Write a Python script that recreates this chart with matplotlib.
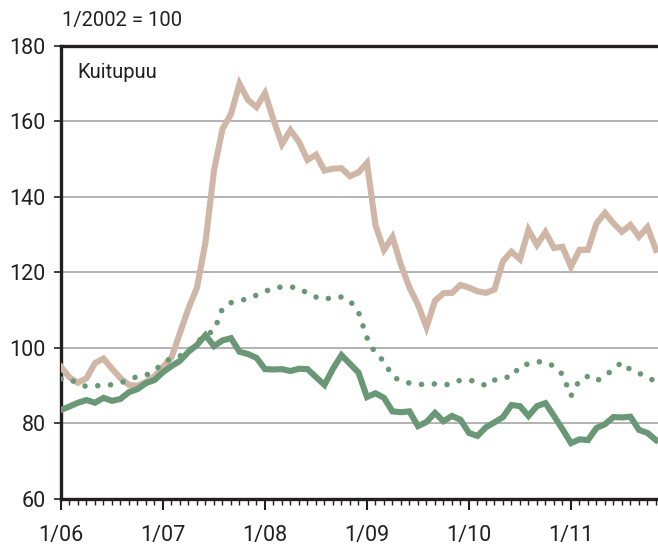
import matplotlib

matplotlib.use("Agg")
import matplotlib.pyplot as plt
import numpy as np
from matplotlib.ticker import MultipleLocator

# monthly index values, 1/2006 .. 11/2011 (1/2002 = 100)
tan_series = [
    95.0, 92.2, 90.8, 92.0, 96.0, 97.2, 94.5, 92.0, 90.2, 90.0, 91.0, 92.5,
    95.0, 97.5, 104.0, 110.5, 116.0, 128.0, 147.0, 158.0, 162.0, 170.0, 165.7, 163.8,
    167.5, 160.4, 154.0, 157.7, 154.6, 149.8, 151.2, 147.0, 147.5, 147.6, 145.5, 146.5,
    149.0, 132.5, 126.0, 129.4, 122.0, 116.0, 111.5, 105.5, 112.5, 114.5, 114.6, 116.7,
    116.0, 115.0, 114.6, 115.5, 123.0, 125.5, 123.5, 131.3, 127.3, 130.7, 126.5, 126.8,
    121.5, 126.0, 126.0, 133.0, 135.8, 133.0, 130.8, 132.6, 129.5, 132.0, 126.0,
]
green_dotted = [
    91.8, 91.8, 90.5, 89.8, 90.0, 90.0, 90.3, 90.8, 91.5, 92.5, 92.8, 94.0,
    96.0, 97.3, 97.9, 99.0, 101.5, 103.5, 104.5, 110.5, 112.0, 112.6, 113.0, 114.0,
    115.0, 115.8, 116.2, 116.2, 115.8, 114.5, 113.5, 112.8, 113.5, 113.5, 112.5, 109.5,
    102.7, 98.5, 96.5, 92.5, 91.2, 90.7, 90.4, 90.3, 90.5, 90.2, 90.5, 91.5,
    91.5, 91.0, 90.0, 91.5, 92.3, 92.2, 95.2, 95.8, 96.4, 96.2, 95.2, 93.0,
    87.3, 91.5, 92.5, 91.3, 92.5, 94.5, 96.2, 94.2, 93.3, 92.3, 91.0,
]
green_solid = [
    83.6, 84.5, 85.5, 86.2, 85.5, 86.8, 86.0, 86.5, 88.3, 89.1, 90.7, 91.5,
    93.6, 95.2, 96.6, 99.0, 100.8, 103.4, 100.5, 102.0, 102.6, 99.0, 98.4, 97.4,
    94.4, 94.3, 94.4, 93.9, 94.5, 94.4, 92.3, 90.2, 94.5, 98.1, 95.8, 93.5,
    87.0, 88.0, 86.8, 83.2, 83.0, 83.2, 79.3, 80.4, 82.8, 80.6, 82.0, 81.0,
    77.5, 76.7, 79.0, 80.3, 81.7, 84.9, 84.6, 82.0, 84.6, 85.4, 82.0, 78.5,
    74.8, 75.8, 75.6, 78.8, 79.8, 81.7, 81.6, 81.8, 78.3, 77.5, 75.6,
]
year_labels = ["1/06", "1/07", "1/08", "1/09", "1/10", "1/11"]

TAN = "#cfb6a6"
GREEN = "#6a9775"
INK = "#231f20"

plt.rcParams["font.family"] = ["Roboto", "DejaVu Sans"]

months = np.arange(len(tan_series))

fig = plt.figure(figsize=(6.58, 5.46), dpi=100)
ax = fig.add_axes([0.0927, 0.0861, 0.9073, 0.8297])

ax.plot(months, tan_series, color=TAN, lw=4.4, solid_joinstyle="miter", zorder=3)
ax.plot(months, green_dotted, color=GREEN, lw=4.0, linestyle=(0, (0.01, 2.3)),
        dash_capstyle="round", zorder=3)
ax.plot(months, green_solid, color=GREEN, lw=4.4, solid_joinstyle="miter", zorder=4)

ax.set_xlim(0, 70.24)
ax.set_ylim(60, 180)
ax.yaxis.set_major_locator(MultipleLocator(20))
ax.set_xticks(np.arange(len(year_labels)) * 12)
ax.set_xticklabels(year_labels)
ax.xaxis.set_minor_locator(MultipleLocator(1))

for y in range(80, 180, 20):
    ax.axhline(y, color="#a6a6a6", lw=1.2, zorder=1)

for side in ("left", "top", "bottom"):
    ax.spines[side].set_linewidth(2.4)
    ax.spines[side].set_color(INK)
ax.spines["right"].set_visible(False)

ax.tick_params(axis="y", which="major", length=5, width=1.2, labelsize=15.5,
               pad=6, colors=INK)
ax.tick_params(axis="x", which="major", length=8, width=1.5, labelsize=15.5,
               pad=11, colors=INK)
ax.tick_params(axis="x", which="minor", length=4.5, width=1.0, colors=INK)

ax.text(0.027, 0.962, "Kuitupuu", transform=ax.transAxes, fontsize=14.5,
        ha="left", va="top", color=INK)
fig.text(0.094, 0.962, "1/2002 = 100", fontsize=14.5, ha="left", va="center",
         color=INK)

fig.savefig("out.png", dpi=100)
